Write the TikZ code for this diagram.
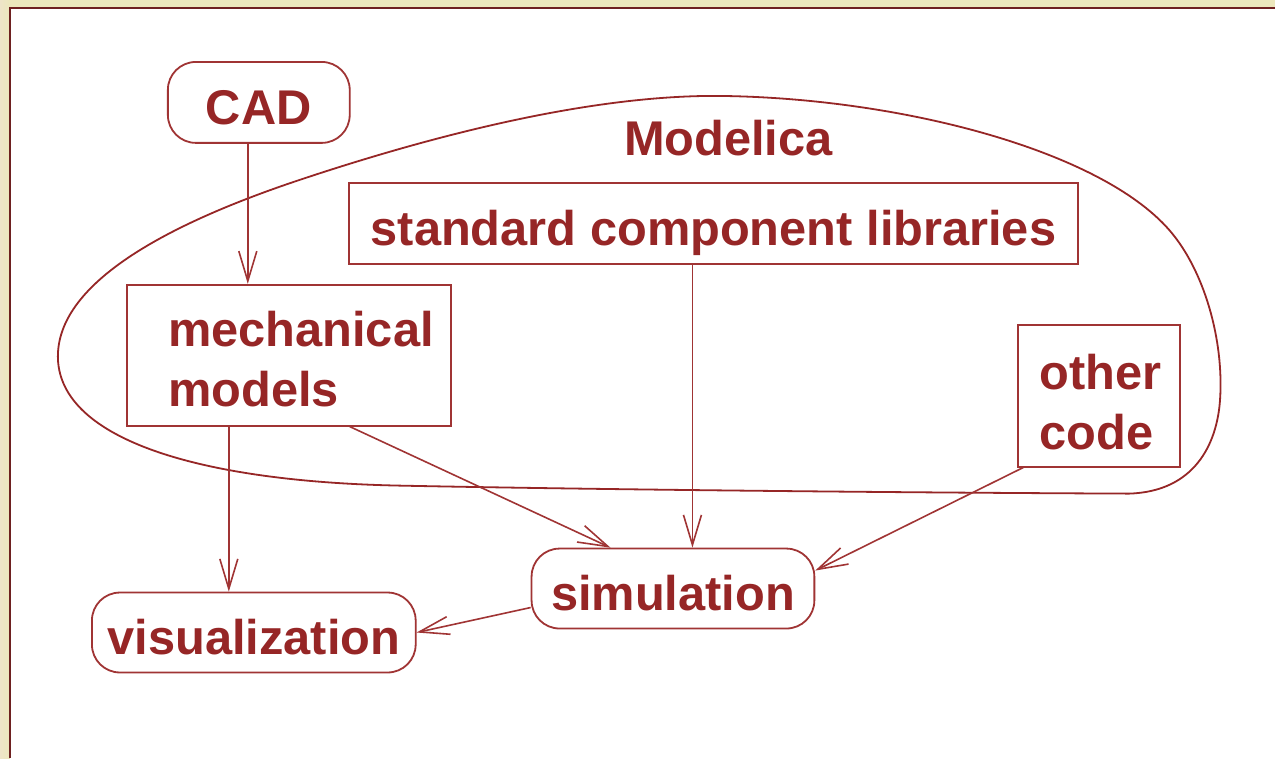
\documentclass[tikz,border=0pt]{standalone}
\usepackage{fontspec}
\setmainfont{Liberation Sans}
\usetikzlibrary{arrows.meta}
\definecolor{mred}{RGB}{150,38,38}
\definecolor{lred}{RGB}{160,52,52}
\definecolor{frame}{RGB}{110,32,32}
\definecolor{gold}{RGB}{236,231,188}
\tikzset{
  every node/.style={font=\fontsize{48.8}{60}\selectfont\bfseries, text=mred},
  boxed/.style={draw=lred, line width=1.8pt, inner sep=0pt, text height=44pt, text depth=0pt},
  roundbox/.style={boxed, rounded corners=28pt},
  txt/.style={inner sep=0pt, align=left, anchor=north west},
  arr/.style={draw=lred, line width=1.6pt, -{Straight Barb[length=30pt, width=18pt, line width=1.6pt]}},
  blob/.style={draw=mred, line width=1.8pt}
}
\begin{document}
\begin{tikzpicture}[x=1pt, y=-1pt]
  % golden frame and white panel
  \fill[gold] (0,0) rectangle (1276,759);
  \shade[left color=gold!80!brown!60, right color=gold] (0,0) rectangle (10,759);
  \fill[white] (10,8) rectangle (1276,759);
  \draw[frame, line width=2pt] (10,759) -- (10,8) -- (1276,8);
  \useasboundingbox (0,0) rectangle (1276,759);

  % Modelica region
  \draw[blob] (58,360)
    .. controls (55,290) and (150,230) .. (300,180)
    .. controls (450,130) and (600,95) .. (720,96)
    .. controls (900,98) and (1100,150) .. (1170,230)
    .. controls (1205,270) and (1225,340) .. (1221,400)
    .. controls (1218,445) and (1195,492) .. (1130,494)
    .. controls (900,493) and (600,490) .. (400,486)
    .. controls (200,482) and (62,440) .. cycle;
  \node (modelica) at (729,138) {Modelica};

  % boxes
  \node[roundbox, minimum width=182pt, minimum height=81pt] (cad) at (259,102.5) {CAD};
  \node[boxed, minimum width=730pt, minimum height=81pt] (std) at (714,223.5) {standard component libraries};
  \node[boxed, minimum width=324pt, minimum height=141pt] (mech) at (289,355.5) {};
  \node[txt] (mechtxt) at (168,311) {mechanical\\models};
  \node[boxed, minimum width=162pt, minimum height=142pt] (other) at (1100,396) {};
  \node[txt] (othertxt) at (1040,354) {other\\code};
  \node[roundbox, minimum width=283pt, minimum height=80pt] (sim) at (673.5,589) {simulation};
  \node[roundbox, minimum width=324pt, minimum height=80pt] (vis) at (254,633) {visualization};

  % connectors
  \draw[arr] (cad.south -| 248,0) -- (mech.north -| 248,0);
  \draw[arr] (mech.south -| 229,0) -- (vis.north -| 229,0);
  \draw[arr] (mech.south -| 350,0) -- (sim.north -| 611,0);
  \draw[arr] (std.south -| 693,0) -- (sim.north -| 693,0);
  \draw[arr] (other.south -| 1024,0) -- (sim.east |- 0,571);
  \draw[arr] (sim.west |- 0,608) -- (vis.east |- 0,633);
\end{tikzpicture}
\end{document}
